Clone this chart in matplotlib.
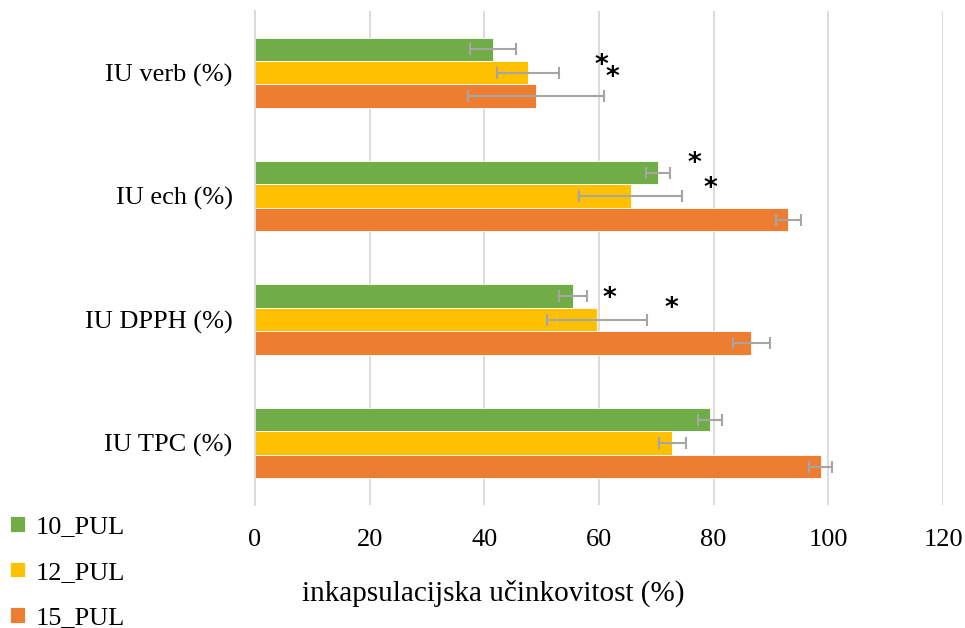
import matplotlib
matplotlib.use("Agg")
import matplotlib.pyplot as plt
import numpy as np

categories = ["IU TPC (%)", "IU DPPH (%)", "IU ech (%)", "IU verb (%)"]
series_names = ["10_PUL", "12_PUL", "15_PUL"]
vals_10 = [79.3, 55.5, 70.3, 41.5]
err_10 = [2.1, 2.4, 2.1, 4.0]
vals_12 = [72.8, 59.6, 65.5, 47.6]
err_12 = [2.4, 8.7, 8.9, 5.4]
vals_15 = [98.7, 86.6, 93.0, 49.0]
err_15 = [2.0, 3.3, 2.2, 11.8]
xticks = [0, 20, 40, 60, 80, 100, 120]
xlabel = "inkapsulacijska učinkovitost (%)"
star_x = [60.4, 62.3, 76.7, 79.5, 61.9, 72.6]
star_y = [3.053, 2.96, 2.259, 2.057, 1.166, 1.085]

colors = ["#70AD47", "#FFC000", "#ED7D31"]
plt.rcParams['font.family'] = ['Liberation Serif', 'DejaVu Serif']

fig = plt.figure(figsize=(9.65, 6.28), dpi=100)
ax = fig.add_axes([0.2642, 0.196, 0.713, 0.7865])

y = np.arange(len(categories))
h = 0.19
offsets = [h, 0, -h]
allv = [vals_10, vals_12, vals_15]
alle = [err_10, err_12, err_15]
for i in range(3):
    ax.barh(y + offsets[i], allv[i], height=h, color=colors[i],
            edgecolor='white', linewidth=0.6, label=series_names[i], zorder=2)
    ax.errorbar(allv[i], y + offsets[i], xerr=alle[i], fmt='none',
                ecolor='#A5A5A5', elinewidth=1.5, capsize=4, capthick=1.5, zorder=3)

for sx, sy in zip(star_x, star_y):
    ax.text(sx, sy, "*", fontsize=19, ha='center', va='center', color='black',
            family=['DejaVu Sans'], fontweight='bold', zorder=4)

ax.set_xlim(0, 120)
ax.set_ylim(-0.5, 3.5)
ax.set_xticks(xticks)
ax.set_xticklabels([str(t) for t in xticks], fontsize=19)
ax.set_yticks(y)
ax.set_yticklabels(categories, fontsize=19)
ax.tick_params(axis='both', length=0)
ax.tick_params(axis='x', pad=17)
ax.tick_params(axis='y', pad=16)
ax.grid(axis='x', color='#D9D9D9', linewidth=1.3, zorder=0)
ax.set_axisbelow(True)
for s in ['top', 'right', 'bottom']:
    ax.spines[s].set_visible(False)
ax.spines['left'].set_color('#D9D9D9')
ax.spines['left'].set_linewidth(1.3)

fig.text(0.511, 0.055, xlabel, fontsize=21, ha='center', va='center')

handles, labels = ax.get_legend_handles_labels()
leg = fig.legend(handles, labels, loc='lower left', bbox_to_anchor=(-0.014, -0.04),
                 frameon=False, fontsize=19, handlelength=0.55, handleheight=0.55,
                 handletextpad=0.4, labelspacing=0.88)

fig.savefig("out.png", dpi=100)
